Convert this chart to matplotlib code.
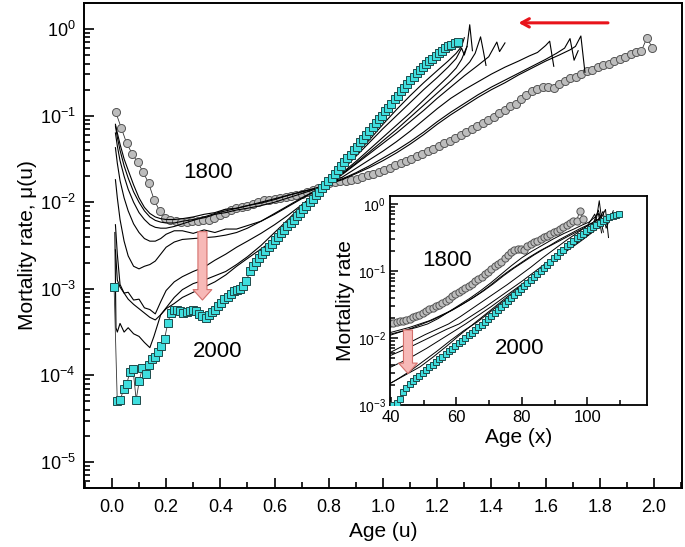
import numpy as np
import matplotlib.pyplot as plt
from matplotlib.ticker import MultipleLocator, LogLocator, NullFormatter

plt.rcParams['font.family'] = ['Liberation Sans', 'DejaVu Sans']

# age scale factors (age x -> scaled age u = x / L)
L_1800 = 49.5
L_2000 = 86.0

# log10 mortality, one value per year of age (ages 0.7, 1.7, ...)
logmu_1800 = [-0.96, -1.14, -1.32, -1.44, -1.54, -1.65, -1.78, -1.97, -2.10, -2.18,
              -2.21, -2.22, -2.23, -2.23, -2.22, -2.22, -2.21, -2.20, -2.18, -2.15,
              -2.12, -2.09, -2.07, -2.06, -2.04, -2.02, -2.00, -1.98, -1.97, -1.96,
              -1.95, -1.94, -1.93, -1.92, -1.90, -1.88, -1.86, -1.84, -1.81, -1.78,
              -1.77, -1.76, -1.75, -1.74, -1.73, -1.71, -1.69, -1.67, -1.65, -1.63,
              -1.60, -1.57, -1.55, -1.52, -1.50, -1.47, -1.44, -1.41, -1.38, -1.35,
              -1.32, -1.29, -1.26, -1.22, -1.19, -1.15, -1.12, -1.09, -1.05, -1.01,
              -0.97, -0.93, -0.89, -0.86, -0.81, -0.76, -0.72, -0.69, -0.67, -0.67,
              -0.68, -0.63, -0.60, -0.57, -0.55, -0.52, -0.49, -0.47, -0.44, -0.42,
              -0.40, -0.37, -0.34, -0.32, -0.29, -0.26, -0.25, -0.10, -0.22]

logmu_2000 = [-2.98, -4.30, -4.28, -4.16, -4.10, -3.96, -3.93, -4.28, -4.06, -3.91,
              -3.98, -3.88, -3.81, -3.79, -3.73, -3.66, -3.58, -3.40, -3.28, -3.24,
              -3.25, -3.26, -3.28, -3.27, -3.26, -3.24, -3.26, -3.29, -3.32, -3.34,
              -3.30, -3.27, -3.24, -3.20, -3.16, -3.12, -3.09, -3.06, -3.03, -3.01,
              -3.00, -2.97, -2.91, -2.80, -2.74, -2.69, -2.64, -2.60, -2.56, -2.52,
              -2.48, -2.44, -2.40, -2.36, -2.32, -2.28, -2.24, -2.20, -2.16, -2.12,
              -2.08, -2.04, -2.00, -1.96, -1.92, -1.88, -1.84, -1.80, -1.76, -1.72,
              -1.67, -1.63, -1.58, -1.54, -1.49, -1.45, -1.40, -1.36, -1.31, -1.27,
              -1.22, -1.18, -1.13, -1.09, -1.04, -1.00, -0.95, -0.91, -0.86, -0.81,
              -0.77, -0.72, -0.68, -0.63, -0.59, -0.55, -0.51, -0.47, -0.44, -0.40,
              -0.37, -0.34, -0.31, -0.28, -0.25, -0.22, -0.20, -0.18, -0.16, -0.15]

# intermediate years: scaled age u and log10 mortality
L_a = 61.0
u_a = [0.013, 0.02, 0.03, 0.045, 0.06, 0.08, 0.10, 0.12, 0.14, 0.16, 0.18, 0.20, 0.23, 0.26,
       0.30, 0.34, 0.38, 0.42, 0.46, 0.50, 0.55, 0.60, 0.65, 0.70, 0.75, 0.80, 0.85, 0.90,
       0.95, 1.00, 1.05, 1.10, 1.15, 1.20, 1.25, 1.30, 1.35, 1.40, 1.45, 1.50, 1.55, 1.60,
       1.65, 1.69, 1.71, 1.73, 1.745]
lm_a = [-1.10, -1.20, -1.33, -1.50, -1.63, -1.80, -1.95, -2.06, -2.13, -2.17, -2.19, -2.20, -2.20, -2.19,
        -2.17, -2.14, -2.12, -2.08, -2.07, -2.04, -2.01, -1.97, -1.92, -1.88, -1.84, -1.79, -1.74, -1.67,
        -1.60, -1.52, -1.43, -1.33, -1.22, -1.10, -0.99, -0.89, -0.79, -0.70, -0.62, -0.53, -0.45, -0.37,
        -0.30, -0.24, -0.20, -0.08, -0.50]

L_b = 62.0
u_b = [0.013, 0.02, 0.03, 0.045, 0.06, 0.08, 0.10, 0.12, 0.14, 0.16, 0.18, 0.20, 0.23, 0.26,
       0.30, 0.34, 0.38, 0.42, 0.46, 0.50, 0.55, 0.60, 0.65, 0.70, 0.75, 0.80, 0.85, 0.90,
       0.95, 1.00, 1.05, 1.10, 1.15, 1.20, 1.25, 1.30, 1.35, 1.40, 1.45, 1.50, 1.55, 1.60,
       1.64, 1.67, 1.69, 1.705, 1.72]
lm_b = [-1.12, -1.25, -1.40, -1.58, -1.72, -1.88, -2.00, -2.10, -2.17, -2.21, -2.23, -2.24, -2.24, -2.22,
        -2.20, -2.18, -2.14, -2.12, -2.09, -2.07, -2.04, -2.00, -1.95, -1.90, -1.85, -1.79, -1.73, -1.66,
        -1.58, -1.49, -1.40, -1.30, -1.19, -1.07, -0.96, -0.86, -0.76, -0.67, -0.59, -0.51, -0.43, -0.35,
        -0.28, -0.22, -0.11, -0.36, -0.25]

L_c = 64.0
u_c = [0.013, 0.02, 0.03, 0.045, 0.06, 0.08, 0.10, 0.12, 0.14, 0.16, 0.18, 0.20, 0.23, 0.26,
       0.30, 0.34, 0.38, 0.42, 0.46, 0.50, 0.55, 0.60, 0.65, 0.70, 0.75, 0.80, 0.85, 0.90,
       0.95, 1.00, 1.05, 1.10, 1.15, 1.20, 1.25, 1.30, 1.35, 1.40, 1.45, 1.50, 1.54, 1.57,
       1.60, 1.615, 1.63]
lm_c = [-1.20, -1.35, -1.52, -1.70, -1.85, -2.00, -2.12, -2.20, -2.26, -2.29, -2.30, -2.30, -2.28, -2.25,
        -2.21, -2.17, -2.13, -2.10, -2.07, -2.04, -2.00, -1.96, -1.92, -1.88, -1.84, -1.79, -1.71, -1.61,
        -1.51, -1.41, -1.30, -1.18, -1.05, -0.92, -0.80, -0.70, -0.61, -0.52, -0.44, -0.37, -0.31, -0.27,
        -0.19, -0.14, -0.43]

L_d = 72.0
u_d = [0.013, 0.02, 0.03, 0.045, 0.06, 0.08, 0.10, 0.12, 0.14, 0.16, 0.18, 0.20, 0.23, 0.26,
       0.30, 0.34, 0.38, 0.42, 0.46, 0.50, 0.55, 0.60, 0.65, 0.70, 0.75, 0.80, 0.85, 0.90,
       0.95, 1.00, 1.05, 1.10, 1.15, 1.20, 1.25, 1.30, 1.35, 1.39, 1.42, 1.43, 1.45]
lm_d = [-1.37, -1.55, -1.75, -1.95, -2.10, -2.25, -2.35, -2.42, -2.45, -2.45, -2.42, -2.37, -2.33, -2.33,
        -2.36, -2.32, -2.35, -2.31, -2.31, -2.27, -2.22, -2.13, -2.04, -1.95, -1.87, -1.79, -1.68, -1.56,
        -1.44, -1.32, -1.20, -1.07, -0.94, -0.80, -0.67, -0.54, -0.42, -0.32, -0.15, -0.26, -0.16]

L_e = 76.0
u_e = [0.013, 0.02, 0.03, 0.045, 0.06, 0.08, 0.10, 0.12, 0.14, 0.16, 0.18, 0.20, 0.23, 0.26,
       0.30, 0.34, 0.38, 0.42, 0.46, 0.50, 0.55, 0.60, 0.65, 0.70, 0.75, 0.80, 0.85, 0.90,
       0.95, 1.00, 1.05, 1.10, 1.15, 1.20, 1.25, 1.29, 1.32, 1.34, 1.36, 1.37, 1.38]
lm_e = [-1.74, -1.95, -2.20, -2.45, -2.62, -2.74, -2.77, -2.74, -2.72, -2.68, -2.60, -2.52, -2.46, -2.43,
        -2.42, -2.41, -2.40, -2.38, -2.35, -2.30, -2.22, -2.14, -2.05, -1.96, -1.87, -1.79, -1.67, -1.55,
        -1.42, -1.29, -1.16, -1.02, -0.88, -0.74, -0.60, -0.48, -0.38, -0.28, -0.09, -0.25, -0.42]

L_f = 78.5
u_f = [0.013, 0.02, 0.03, 0.045, 0.06, 0.08, 0.10, 0.12, 0.14, 0.16, 0.18, 0.20, 0.23, 0.26,
       0.30, 0.34, 0.38, 0.42, 0.46, 0.50, 0.55, 0.60, 0.65, 0.70, 0.75, 0.80, 0.85, 0.90,
       0.95, 1.00, 1.05, 1.10, 1.15, 1.20, 1.24, 1.27, 1.29, 1.31, 1.32, 1.33]
lm_f = [-2.26, -2.60, -2.95, -3.05, -3.04, -3.13, -3.12, -3.22, -3.24, -3.29, -3.15, -3.02, -2.92, -2.86,
        -2.80, -2.75, -2.67, -2.60, -2.52, -2.45, -2.36, -2.26, -2.15, -2.03, -1.91, -1.79, -1.66, -1.53,
        -1.39, -1.25, -1.11, -0.97, -0.82, -0.67, -0.55, -0.45, -0.35, -0.20, 0.05, -0.25]

L_g = 81.5
u_g = [0.013, 0.02, 0.03, 0.045, 0.06, 0.08, 0.10, 0.12, 0.14, 0.16, 0.18, 0.20, 0.23, 0.26,
       0.30, 0.34, 0.38, 0.42, 0.46, 0.50, 0.55, 0.60, 0.65, 0.70, 0.75, 0.80, 0.85, 0.90,
       0.95, 1.00, 1.05, 1.10, 1.15, 1.20, 1.24, 1.27, 1.29, 1.30, 1.31]
lm_g = [-2.55, -2.90, -2.98, -3.05, -3.12, -3.18, -3.23, -3.28, -3.33, -3.36, -3.30, -3.23, -3.17, -3.10,
        -3.04, -2.98, -2.92, -2.84, -2.74, -2.65, -2.54, -2.43, -2.28, -2.12, -1.95, -1.79, -1.63, -1.47,
        -1.31, -1.15, -1.00, -0.85, -0.70, -0.56, -0.44, -0.34, -0.22, -0.30, -0.20]

L_h = 83.0
u_h = [0.011, 0.015, 0.02, 0.03, 0.045, 0.06, 0.08, 0.10, 0.12, 0.14, 0.155, 0.18, 0.20, 0.23,
       0.26, 0.30, 0.34, 0.38, 0.42, 0.46, 0.50, 0.55, 0.60, 0.65, 0.70, 0.75, 0.80, 0.85,
       0.90, 0.95, 1.00, 1.05, 1.10, 1.15, 1.20, 1.24, 1.27, 1.29, 1.30]
lm_h = [-2.35, -3.45, -3.50, -3.40, -3.50, -3.45, -3.52, -3.55, -3.62, -3.68, -3.55, -3.30, -3.22, -3.10,
        -3.01, -2.94, -2.90, -2.85, -2.80, -2.72, -2.63, -2.50, -2.35, -2.20, -2.04, -1.89, -1.76, -1.60,
        -1.44, -1.28, -1.10, -0.93, -0.77, -0.62, -0.48, -0.37, -0.28, -0.20, -0.10]

mid_years = [(L_a, u_a, lm_a), (L_b, u_b, lm_b), (L_c, u_c, lm_c), (L_d, u_d, lm_d),
             (L_e, u_e, lm_e), (L_f, u_f, lm_f), (L_g, u_g, lm_g), (L_h, u_h, lm_h)]

age_1800 = np.arange(len(logmu_1800)) + 0.7
age_2000 = np.arange(len(logmu_2000)) + 0.7
mu_1800 = 10.0 ** np.array(logmu_1800)
mu_2000 = 10.0 ** np.array(logmu_2000)

circ = dict(marker='o', mfc='#bdbdbd', mec='#555555', mew=0.7, color='#333333', lw=0.6)
sq = dict(marker='s', mfc='#3fdede', mec='#1e4a4a', mew=0.7, color='#333333', lw=0.6)
pink = dict(arrowstyle='simple,head_length=0.75,head_width=1.35,tail_width=0.65',
            fc='#f7b9b7', ec='#d4706c', lw=0.8, shrinkA=0, shrinkB=0)

fig = plt.figure(figsize=(6.85, 5.47), dpi=100)
ax = fig.add_axes([0.1226, 0.1079, 0.873, 0.8866])

ax.plot(age_1800 / L_1800, mu_1800, ms=5.8, zorder=2, **circ)
for L, u, lm in mid_years:
    ax.plot(u, 10.0 ** np.array(lm), color='black', lw=0.8, zorder=3)
ax.plot(age_2000 / L_2000, mu_2000, ms=5.2, zorder=4, **sq)

ax.set_yscale('log')
ax.set_xlim(-0.103, 2.103)
ax.set_ylim(5e-6, 2.0)
ax.xaxis.set_major_locator(MultipleLocator(0.2))
ax.xaxis.set_minor_locator(MultipleLocator(0.1))
ax.yaxis.set_major_locator(LogLocator(base=10, numticks=10))
ax.yaxis.set_minor_locator(LogLocator(base=10, subs=np.arange(2, 10), numticks=10))
ax.yaxis.set_minor_formatter(NullFormatter())
ax.xaxis.set_major_formatter(plt.FuncFormatter(lambda v, p: '%.1f' % v))
ax.tick_params(which='both', direction='in', top=False, right=False, width=1.2)
ax.tick_params(which='major', length=7, labelsize=13)
ax.tick_params(which='minor', length=4)
ax.tick_params(axis='y', which='major', labelsize=13, pad=6)
ax.tick_params(axis='x', which='major', pad=8)
for s in ax.spines.values():
    s.set_linewidth(1.4)
ax.set_xlabel('Age (u)', fontsize=15, labelpad=4)
ax.set_ylabel('Mortality rate, μ(u)', fontsize=15, labelpad=2)

ax.text(0.355, 10 ** -1.66, '1800', fontsize=16, ha='center', va='center')
ax.text(0.39, 10 ** -3.73, '2000', fontsize=16, ha='center', va='center')
ax.annotate('', xy=(1.50, 1.18), xytext=(1.83, 1.18),
            arrowprops=dict(arrowstyle='->,head_length=0.55,head_width=0.3',
                            color='#e8141b', lw=2.2, shrinkA=0, shrinkB=0))
ax.annotate('', xy=(0.334, 10 ** -3.13), xytext=(0.334, 10 ** -2.34),
            arrowprops=dict(mutation_scale=10, **pink))

# inset: same data against unscaled age
ins = fig.add_axes([0.5693, 0.2596, 0.3752, 0.3821])
ins.plot(age_1800, mu_1800, ms=5.2, zorder=2, **circ)
for L, u, lm in mid_years:
    ins.plot(np.array(u) * L, 10.0 ** np.array(lm), color='black', lw=0.7, zorder=3)
ins.plot(age_2000, mu_2000, ms=4.6, zorder=4, **sq)
ins.set_yscale('log')
ins.set_xlim(39.7, 118.2)
ins.set_ylim(1e-3, 1.32)
ins.xaxis.set_major_locator(MultipleLocator(20))
ins.xaxis.set_minor_locator(MultipleLocator(10))
ins.yaxis.set_major_locator(LogLocator(base=10, numticks=10))
ins.yaxis.set_minor_locator(LogLocator(base=10, subs=np.arange(2, 10), numticks=10))
ins.yaxis.set_minor_formatter(NullFormatter())
ins.tick_params(which='both', direction='in', top=False, right=False, width=1.1)
ins.tick_params(which='major', length=6, labelsize=12)
ins.tick_params(which='minor', length=3.5)
ins.tick_params(axis='y', which='major', labelsize=10, pad=3)
for s in ins.spines.values():
    s.set_linewidth(1.3)
ins.set_xlabel('Age (x)', fontsize=15, labelpad=2)
ins.set_ylabel('Mortality rate', fontsize=15, labelpad=2)
ins.text(57, 10 ** -0.84, '1800', fontsize=16, ha='center', va='center')
ins.text(79.4, 10 ** -2.15, '2000', fontsize=16, ha='center', va='center')
ins.annotate('', xy=(45.2, 10 ** -2.53), xytext=(45.2, 10 ** -1.88),
             arrowprops=dict(mutation_scale=10, **pink))

fig.savefig('out.png', dpi=100)
